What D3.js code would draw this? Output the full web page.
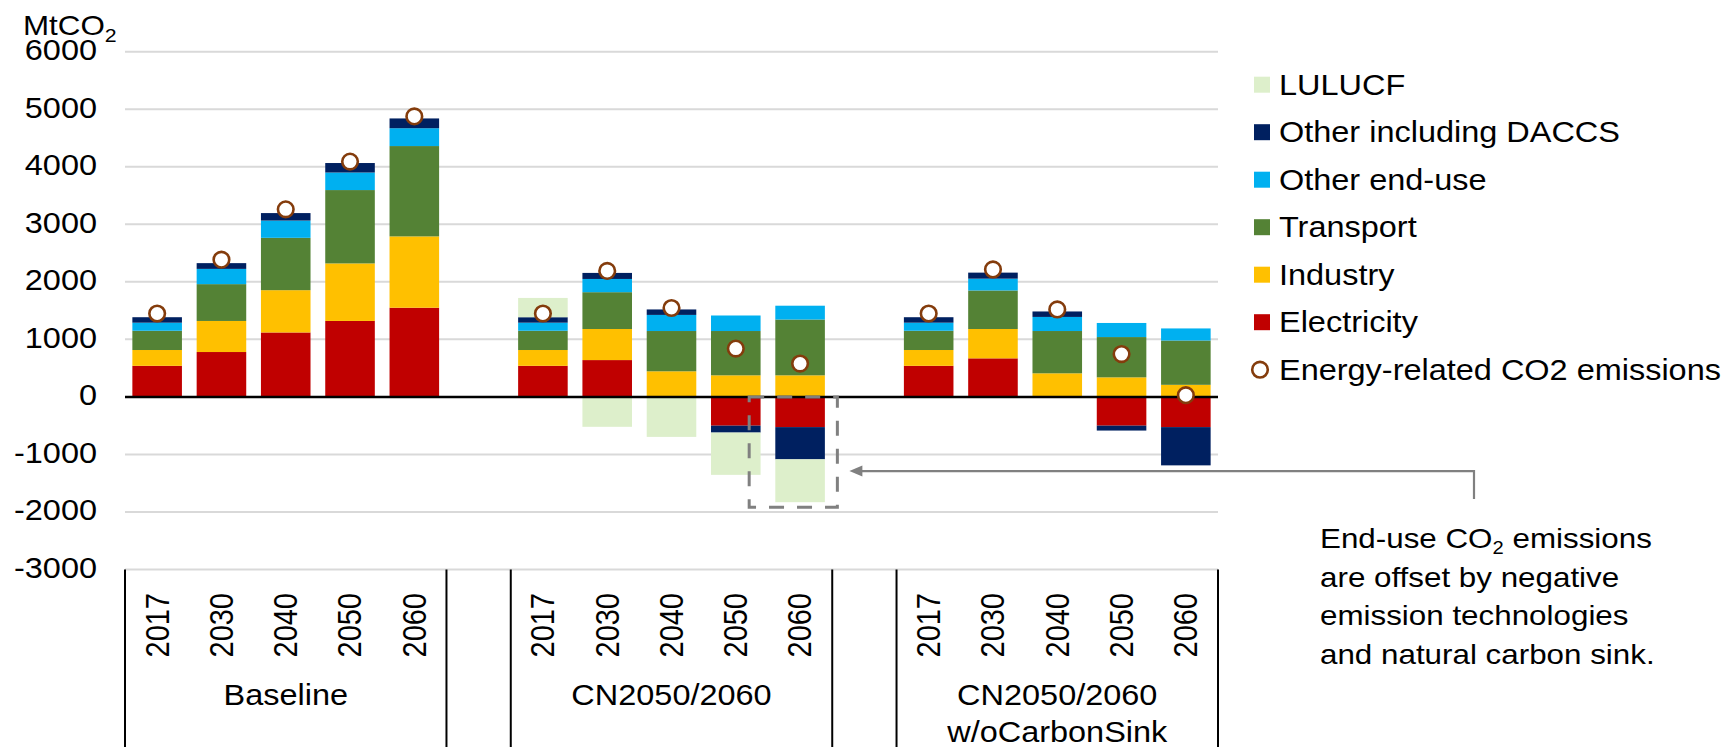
<!DOCTYPE html>
<html>
<head>
<meta charset="utf-8">
<script src="https://cdn.jsdelivr.net/npm/d3@7"></script>
<style>
  html, body { margin: 0; padding: 0; background: #fff; }
  svg { display: block; font-family: "Liberation Sans", Arial, sans-serif; }
</style>
</head>
<body>
<svg id="chart" width="1725" height="747"></svg>
<script>
// ---------------- DATA ----------------
const groups = ["Baseline", "CN2050/2060", "CN2050/2060|w/oCarbonSink"];
const years = ["2017", "2030", "2040", "2050", "2060"];
const yTicks = [6000, 5000, 4000, 3000, 2000, 1000, 0, -1000, -2000, -3000];

const seriesNames = ["Electricity", "Industry", "Transport", "Other end-use", "Other including DACCS", "LULUCF"];
const electricity = [540, 780, 1120, 1320, 1550,   540, 640, 0, -500, -525,   540, 670, 0, -500, -525];
const industry    = [275, 540, 735, 1000, 1240,   275, 540, 445, 375, 375,   275, 510, 410, 340, 210];
const transport   = [335, 640, 910, 1275, 1570,   335, 640, 700, 770, 970,   335, 670, 735, 700, 770];
const otherEndUse = [140, 265, 300, 305, 310,     140, 230, 280, 270, 240,   140, 205, 245, 245, 210];
const otherDACCS  = [95, 100, 130, 165, 170,      95, 105, 95, -120, -560,   95, 105, 95, -85, -665];
const lulucf      = [0, 0, 0, 0, 0,               335, -520, -695, -735, -745, 0, 0, 0, 0, 0];
const energyCO2   = [1450, 2385, 3260, 4090, 4875, 1450, 2190, 1545, 840, 580, 1450, 2215, 1520, 745, 30];

const legendItems = ["LULUCF", "Other including DACCS", "Other end-use", "Transport", "Industry", "Electricity"];
const colors = {
  "Electricity": "#C00000",
  "Industry": "#FFC000",
  "Transport": "#548235",
  "Other end-use": "#00B0F0",
  "Other including DACCS": "#002060",
  "LULUCF": "#DDEFCB"
};
const seriesValues = [electricity, industry, transport, otherEndUse, otherDACCS, lulucf];

// ---------------- LAYOUT ----------------
const svg = d3.select("#chart");
const SX = 1.12;      // horizontal stretch of text in reference
const FS = 29;

const nSlots = groups.length * 6 - 1; // 17 slots incl. gaps
const x = d3.scaleBand()
  .domain(d3.range(nSlots))
  .range([125, 1218])
  .paddingInner(0.229)
  .paddingOuter(0.1145);
const y = d3.scaleLinear().domain([-3000, 6000]).range([569.5, 51.7]);

const slotOf = k => Math.floor(k / 5) * 6 + (k % 5);
const rows = d3.range(15).map(k => {
  const r = { slot: slotOf(k) };
  seriesNames.forEach((s, i) => r[s] = seriesValues[i][k]);
  return r;
});

const stack = d3.stack().keys(seriesNames).offset(d3.stackOffsetDiverging);
const stacked = stack(rows);

function txt(parent, px, py, str, opt = {}) {
  const g = parent.append("g")
    .attr("transform", `translate(${px},${py}) scale(${SX},1)` + (opt.rotate ? ` rotate(${opt.rotate})` : ""));
  const t = g.append("text")
    .attr("font-size", opt.size || FS)
    .attr("fill", opt.fill || "#000")
    .attr("text-anchor", opt.anchor || "start");
  if (opt.dy) t.attr("dy", opt.dy);
  t.text(str);
  return t;
}

// gridlines
svg.append("g").selectAll("line").data(yTicks.filter(v => v !== 0)).join("line")
  .attr("x1", 125).attr("x2", 1218)
  .attr("y1", d => y(d)).attr("y2", d => y(d))
  .attr("stroke", "#D9D9D9").attr("stroke-width", 2);

// y tick labels
const yAxisG = svg.append("g");
yTicks.forEach(v => txt(yAxisG, 97, y(v) + 8.3, String(v), { anchor: "end" }));

// unit label MtCO2
const unit = txt(svg, 23, 35, "MtCO", { size: 28 });
unit.append("tspan").attr("font-size", 19).attr("dy", 7).text("2");

// bars
svg.append("g").selectAll("g").data(stacked).join("g")
  .attr("fill", d => colors[d.key])
  .selectAll("rect").data(d => d).join("rect")
  .attr("x", d => x(d.data.slot))
  .attr("width", x.bandwidth())
  .attr("y", d => y(Math.max(d[0], d[1])))
  .attr("height", d => Math.abs(y(d[0]) - y(d[1])));

// zero line
svg.append("line")
  .attr("x1", 125).attr("x2", 1218)
  .attr("y1", y(0)).attr("y2", y(0))
  .attr("stroke", "#000").attr("stroke-width", 2.5);

// energy-related CO2 markers
svg.append("g").selectAll("circle").data(energyCO2).join("circle")
  .attr("cx", (d, k) => x(slotOf(k)) + x.bandwidth() / 2)
  .attr("cy", d => y(d))
  .attr("r", 7.8)
  .attr("fill", "#fff")
  .attr("stroke", "#843C0C")
  .attr("stroke-width", 2.6);

// category axis: group separators
const step = x.step();
const x0 = x.range()[0];
const sepSlots = [0, 5, 6, 11, 12, 17];
svg.append("g").selectAll("line").data(sepSlots).join("line")
  .attr("x1", s => x0 + s * step).attr("x2", s => x0 + s * step)
  .attr("y1", y(-3000)).attr("y2", 747)
  .attr("stroke", "#000").attr("stroke-width", 2);

// year labels
const yearG = svg.append("g");
groups.forEach((g, gi) => {
  years.forEach((yr, j) => {
    const cx = x(gi * 6 + j) + x.bandwidth() / 2;
    txt(yearG, cx, 593, yr, { rotate: -90, anchor: "end", dy: "0.35em" });
  });
});

// group labels
const grpG = svg.append("g");
groups.forEach((g, gi) => {
  const cx = x0 + (gi * 6 + 2.5) * step;
  g.split("|").forEach((line, li) => {
    txt(grpG, cx, 705 + li * 37, line, { anchor: "middle" });
  });
});

// annotation: dashed box
const bw = x.bandwidth();
const boxL = x(9) + bw * 0.77;
const boxR = x(10) + bw + 12.5;
svg.append("rect")
  .attr("x", boxL).attr("y", y(0))
  .attr("width", boxR - boxL).attr("height", y(-1920) - y(0))
  .attr("fill", "none").attr("stroke", "#808080")
  .attr("stroke-width", 3).attr("stroke-dasharray", "15,13");

// annotation arrow
const arrowY = y(-1290);
const tipX = boxR + 12;
svg.append("path")
  .attr("d", `M${tipX + 10},${arrowY} H1474 V${arrowY + 28}`)
  .attr("fill", "none").attr("stroke", "#808080").attr("stroke-width", 2.2);
svg.append("path")
  .attr("d", `M${tipX},${arrowY} L${tipX + 13},${arrowY - 5.5} L${tipX + 13},${arrowY + 5.5} Z`)
  .attr("fill", "#808080");

// annotation text
const noteG = svg.append("g");
const n1 = txt(noteG, 1320, 548, "End-use CO", { size: 28 });
n1.append("tspan").attr("font-size", 18).attr("dy", 6).text("2");
n1.append("tspan").attr("dy", -6).text(" emissions");
["are offset by negative", "emission technologies", "and natural carbon sink."].forEach((l, i) => {
  txt(noteG, 1320, 587 + i * 38.3, l, { size: 28 });
});

// legend
const legG = svg.append("g");
const legY0 = 84.7, legStep = 47.5;
legendItems.forEach((name, i) => {
  const cy = legY0 + i * legStep;
  legG.append("rect").attr("x", 1254).attr("y", cy - 8).attr("width", 16).attr("height", 16)
    .attr("fill", colors[name]);
  txt(legG, 1279, cy + 9.8, name, { size: 29 });
});
{
  const cy = legY0 + legendItems.length * legStep;
  legG.append("circle").attr("cx", 1260).attr("cy", cy).attr("r", 7.8)
    .attr("fill", "#fff").attr("stroke", "#843C0C").attr("stroke-width", 2.6);
  txt(legG, 1279, cy + 9.8, "Energy-related CO2 emissions", { size: 29 });
}
</script>
</body>
</html>
